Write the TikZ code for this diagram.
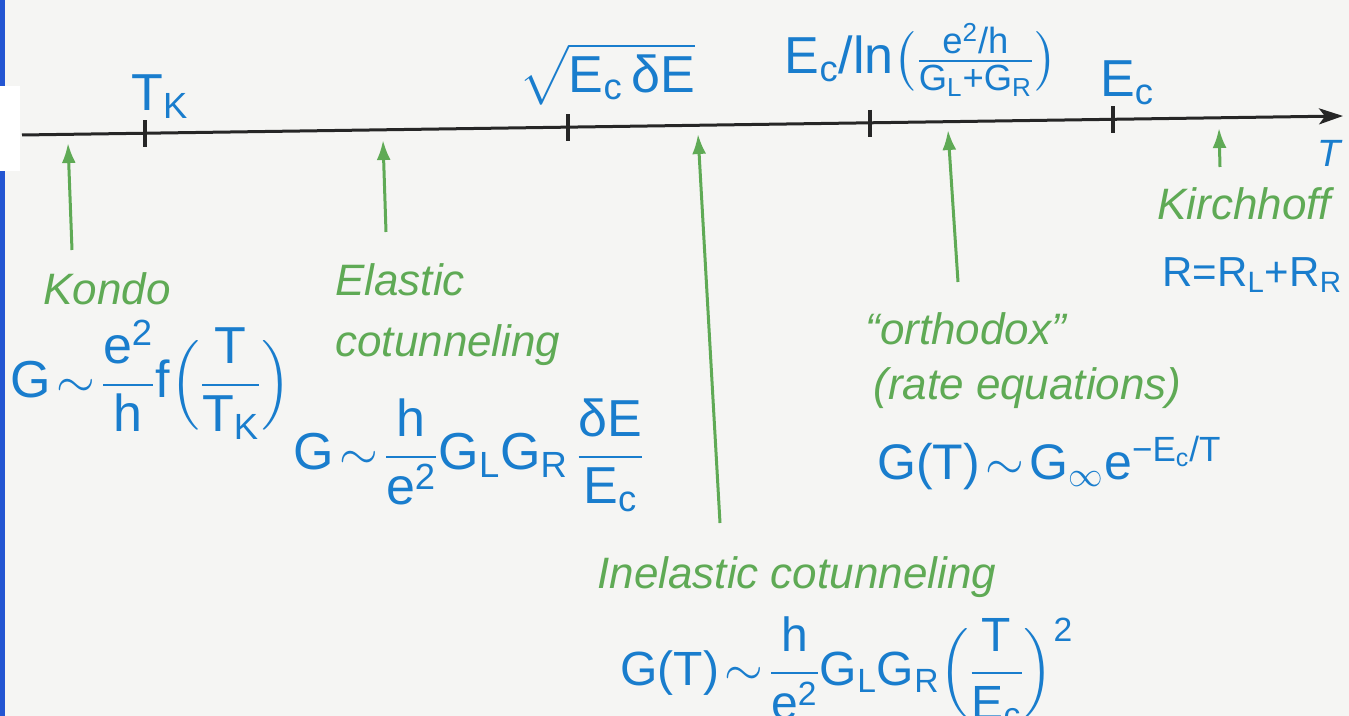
\documentclass[tikz,border=0pt]{standalone}
\usepackage{amsmath}
\usepackage{fontspec}
\setmainfont{Liberation Sans}
\usetikzlibrary{arrows.meta}
\definecolor{paper}{RGB}{245,245,243}
\definecolor{barblue}{RGB}{35,85,210}
\definecolor{inkblue}{RGB}{25,125,205}
\definecolor{inkgreen}{RGB}{95,170,85}
\newcommand{\tx}[1]{\text{#1}}
\tikzset{
  axisline/.style={line width=1.5pt,black!85},
  tickmark/.style={line width=2pt,black!85},
  gharrow/.style={line width=1.5pt,draw=inkgreen,-{Latex[length=10pt,width=7pt]}},
  glabel/.style={inner sep=0pt,text=inkgreen,font=\fontsize{22}{26}\selectfont\itshape,anchor=base west},
  blab/.style={inner sep=0pt,text=inkblue,font=\fontsize{26}{30}\selectfont},
}
\begin{document}
\begin{tikzpicture}[x=0.5pt,y=-0.5pt]
\useasboundingbox (0,0) rectangle (1349,716);
\fill[paper] (0,0) rectangle (1349,716);
\fill[barblue] (0,0) rectangle (5,86);
\fill[white] (0,86) rectangle (20,171);
\fill[barblue] (0,171) rectangle (5,716);
% axis
\coordinate (a0) at (22,135);
\coordinate (a1) at (1343,116);
\draw[axisline,-{Stealth[length=12pt,width=8pt,inset=3pt]}] (a0) -- (a1);
% ticks
\coordinate (tK) at (145,133.2);
\coordinate (tS) at (568,127.1);
\coordinate (tL) at (870,122.8);
\coordinate (tE) at (1113,119.3);
\foreach \c in {tK,tS,tL,tE} \draw[tickmark] (\c) ++(0,-13) -- ++(0,27);
% axis labels
\node[blab] (lTK) at (160,97) {$\tx{T}_{\tx{K}}$};
\node[blab] (lSq) at (607,74) {$\sqrt{\tx{E}_{\tx{c}}\,\tx{δE}}$};
\node[blab] (lLn) at (921,60) {$\tx{E}_{\tx{c}}\tx{/ln}\bigl(\frac{\tx{e}^{\tx{2}}\tx{/h}}{\tx{G}_{\tx{L}}\tx{+G}_{\tx{R}}}\bigr)$};
\node[blab] (lEc) at (1127,83) {$\tx{E}_{\tx{c}}$};
\node[blab,font=\fontsize{19}{22}\selectfont\itshape] (lT) at (1329,153) {T};
% arrow tails and tips
\coordinate (kB) at (72,250);   \coordinate (kT) at (68,143);
\coordinate (eB) at (386,232);  \coordinate (eT) at (383,140);
\coordinate (iB) at (720,523);  \coordinate (iT) at (698,134);
\coordinate (oB) at (958,282);  \coordinate (oT) at (948,130);
\coordinate (hB) at (1220,167); \coordinate (hT) at (1219,128);
\draw[gharrow] (kB) -- (kT);
\draw[gharrow] (eB) -- (eT);
\draw[gharrow] (iB) -- (iT);
\draw[gharrow] (oB) -- (oT);
\draw[gharrow] (hB) -- (hT);
% green labels
\node[glabel] (gK) at (43,305) {Kondo};
\node[glabel] (gE1) at (335,296) {Elastic};
\node[glabel] (gE2) at (335,357) {cotunneling};
\node[glabel] (gI) at (597,588) {Inelastic cotunneling};
\node[glabel] (gO1) at (865,345) {“orthodox”};
\node[glabel] (gO2) at (873,400) {(rate equations)};
\node[glabel] (gH) at (1157,220) {Kirchhoff};
% blue formulas
\node[blab,anchor=west] (fK) at (10,380) {$\displaystyle \tx{G}\!\sim\!\frac{\tx{e}^{\tx{2}}}{\tx{h}}\tx{f}\Bigl(\frac{\tx{T}}{\tx{T}_{\tx{K}}}\Bigr)$};
\node[blab,anchor=west] (fE) at (293,455) {$\displaystyle \tx{G}\!\sim\!\frac{\tx{h}}{\tx{e}^{\tx{2}}}\tx{G}_{\tx{L}}\tx{G}_{\tx{R}}\,\frac{\tx{δE}}{\tx{E}_{\tx{c}}}$};
\node[blab,anchor=west,font=\fontsize{24}{28}\selectfont] (fI) at (620,672) {$\displaystyle \tx{G(T)}\!\sim\!\frac{\tx{h}}{\tx{e}^{\tx{2}}}\tx{G}_{\tx{L}}\tx{G}_{\tx{R}}\Bigl(\frac{\tx{T}}{\tx{E}_{\tx{c}}}\Bigr)^{\tx{2}}$};
\node[blab,anchor=west,font=\fontsize{25}{29}\selectfont] (fO) at (877,463) {$\tx{G(T)}\!\sim\!\tx{G}_{\infty}\tx{e}^{\tx{−E}_{\tx{c}}\tx{/T}}$};
\node[blab,anchor=west,font=\fontsize{21}{25}\selectfont] (fH) at (1162,275) {$\tx{R=R}_{\tx{L}}\tx{+R}_{\tx{R}}$};
\end{tikzpicture}
\end{document}
